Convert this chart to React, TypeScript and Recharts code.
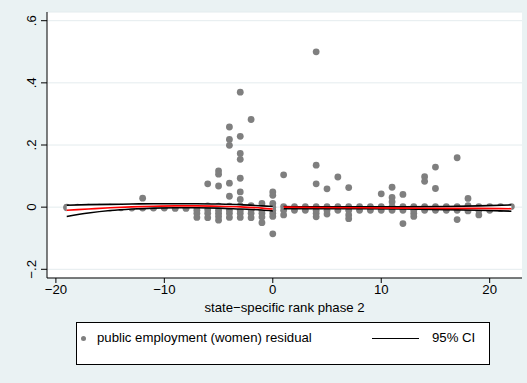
import React from "react"
import { ComposedChart, Scatter, Line, Area, XAxis, YAxis, CartesianGrid } from "recharts"

// residuals of public employment (women), grouped by state-specific rank
const ranks = [
  -19, -18, -17, -16, -15, -14, -13, -12, -11, -10, -9, -8, -7, -6, -5, -4, -3, -2, -1, 0,
  1, 2, 3, 4, 5, 6, 7, 8, 9, 10, 11, 12, 13, 14, 15, 16, 17, 18, 19, 20, 21, 22,
]
const residuals: number[][] = [
  [0, -0.002], [0, -0.002], [0, -0.002], [0, -0.002], [0, -0.003], [0, -0.002], [0, -0.003],
  [0.029, 0, -0.003], [0, -0.003], [0, -0.003], [0, -0.004], [0, -0.004],
  [0, -0.01, -0.02, -0.033],
  [0.075, 0.004, -0.008, -0.02, -0.034],
  [0.117, 0.106, 0.068, 0.003, -0.01, -0.02, -0.03, -0.042],
  [0.258, 0.218, 0.199, 0.077, 0.035, 0.003, -0.01, -0.02, -0.033],
  [0.37, 0.228, 0.173, 0.154, 0.093, 0.049, 0.025, 0.004, -0.01, -0.02, -0.033],
  [0.282, 0.005, -0.008, -0.02, -0.034],
  [0.012, 0.002, -0.01, -0.02, -0.032, -0.05],
  [0.049, 0.038, 0.012, 0, -0.01, -0.02, -0.03, -0.086],
  [0.104, 0.002, -0.01, -0.025],
  [0.002, -0.01], [0.002, -0.01],
  [0.5, 0.135, 0.075, 0.002, -0.01, -0.02, -0.031],
  [0.059, 0.002, -0.01, -0.022],
  [0.097, 0.002, -0.01],
  [0.063, 0.002, -0.01, -0.025, -0.037],
  [0.002, -0.01], [0.002, -0.01],
  [0.043, 0.002, -0.01],
  [0.064, 0.031, 0.017, 0.002, -0.01],
  [0.041, 0.002, -0.01, -0.053],
  [0.002, -0.01, -0.02, -0.03],
  [0.098, 0.083, 0.002, -0.01],
  [0.129, 0.06, 0.002, -0.01],
  [0.002, -0.01],
  [0.159, 0.002, -0.01, -0.04],
  [0.028, 0.005, -0.005, -0.012],
  [0.002, -0.01, -0.025],
  [0.002, -0.01], [0.002, -0.005], [0.002],
]

// local polynomial fit with 95% CI, left and right of the cutoff
const leftRank = [-19, -17, -15, -13, -11, -9, -7, -5, -3, -1, 0]
const leftFit = [-0.01, -0.006, -0.002, 0.001, 0.003, 0.004, 0.004, 0.003, 0.001, -0.003, -0.006]
const leftHi = [0.006, 0.008, 0.009, 0.01, 0.011, 0.011, 0.011, 0.01, 0.008, 0.004, 0.002]
const leftLo = [-0.03, -0.019, -0.011, -0.006, -0.003, -0.002, -0.002, -0.003, -0.006, -0.009, -0.012]

const rightRank = [1, 4, 8, 12, 16, 19, 22]
const rightFit = [0, -0.001, -0.002, -0.003, -0.004, -0.004, -0.005]
const rightHi = [0.002, 0.001, 0.001, 0.001, 0.002, 0.004, 0.007]
const rightLo = [-0.005, -0.005, -0.005, -0.006, -0.008, -0.01, -0.013]

const xTicks = [-20, -10, 0, 10, 20]
const xTickLabels = ["−20", "−10", "0", "10", "20"]
const yTicks = [-0.2, 0, 0.2, 0.4, 0.6]
const yTickLabels = ["−.2", "0", ".2", ".4", ".6"]

const FONT = '"Liberation Sans", Arial, sans-serif'
const BG = "#eaf2f3"
const DOT = "#7f7f7f"

const points = ranks.flatMap((r, i) => residuals[i].map(v => ({ x: r, y: v })))
const leftData = leftRank.map((r, i) => ({ x: r, fit: leftFit[i], hi: leftHi[i], lo: leftLo[i], band: [leftLo[i], leftHi[i]] }))
const rightData = rightRank.map((r, i) => ({ x: r, fit: rightFit[i], hi: rightHi[i], lo: rightLo[i], band: [rightLo[i], rightHi[i]] }))

const YTick = (props: any) => {
  const { x, y, payload } = props
  const label = yTickLabels[yTicks.findIndex(t => Math.abs(t - payload.value) < 1e-9)]
  return (
    <text x={x} y={y} dy="0.35em" textAnchor="middle" transform={`rotate(-90 ${x} ${y})`}
      fill="#000" fontSize={13.2} fontFamily={FONT}>
      {label}
    </text>
  )
}

export default function App() {
  const seg = (data: any[], key: string) => (
    <>
      <Area data={data} dataKey="band" type="monotone" fill="#fff" fillOpacity={1} stroke="none"
        isAnimationActive={false} zIndex={350} />
      <Line data={data} dataKey="hi" type="monotone" stroke="#000" strokeWidth={1.6} dot={false}
        isAnimationActive={false} zIndex={400} key={key + "hi"} />
      <Line data={data} dataKey="lo" type="monotone" stroke="#000" strokeWidth={1.6} dot={false}
        isAnimationActive={false} zIndex={400} key={key + "lo"} />
      <Line data={data} dataKey="fit" type="monotone" stroke="#ff0000" strokeWidth={1.6} dot={false}
        isAnimationActive={false} zIndex={410} key={key + "fit"} />
    </>
  )

  return (
    <div style={{ position: "absolute", left: 0, top: 0, width: 527, height: 383, background: BG, fontFamily: FONT }}>
      <ComposedChart width={527} height={383} margin={{ top: 12, right: 5, left: 7, bottom: 83 }}>
        <CartesianGrid vertical={false} fill="#fff" stroke="#e4ecee" />
        <XAxis
          type="number"
          dataKey="x"
          domain={[-20.82, 22.98]}
          ticks={xTicks}
          tickFormatter={(v: number) => xTickLabels[xTicks.indexOf(v)]}
          allowDataOverflow
          height={22}
          tickSize={5}
          stroke="#000"
          tick={{ fill: "#000", fontSize: 13.2, fontFamily: FONT }}
          label={{ value: "state−specific rank phase 2", position: "bottom", offset: 3, fill: "#000", fontSize: 13.2, fontFamily: FONT }}
        />
        <YAxis
          type="number"
          dataKey="y"
          domain={[-0.228, 0.628]}
          ticks={yTicks}
          allowDataOverflow
          width={40}
          tickSize={6}
          tickMargin={10}
          stroke="#000"
          tick={<YTick />}
        />
        <Scatter
          data={points}
          dataKey="y"
          isAnimationActive={false}
          zIndex={300}
          shape={(p: any) => <circle cx={p.cx} cy={p.cy} r={3.4} fill={DOT} />}
        />
        {seg(leftData, "l")}
        {seg(rightData, "r")}
      </ComposedChart>

      <div style={{
        position: "absolute", left: 76, top: 322, width: 414, height: 43, boxSizing: "border-box",
        border: "1px solid #000", background: "#fff", fontSize: 13.2, color: "#000",
      }}>
        <div style={{ position: "absolute", left: 4, top: 13, width: 5, height: 5, borderRadius: "50%", background: DOT }} />
        <div style={{ position: "absolute", left: 20, top: 7, lineHeight: "16px", whiteSpace: "nowrap" }}>
          public employment (women) residual
        </div>
        <div style={{ position: "absolute", left: 295, top: 15, width: 47, height: 1, background: "#000" }} />
        <div style={{ position: "absolute", left: 355, top: 7, lineHeight: "16px", whiteSpace: "nowrap" }}>
          95% CI
        </div>
      </div>
    </div>
  )
}
